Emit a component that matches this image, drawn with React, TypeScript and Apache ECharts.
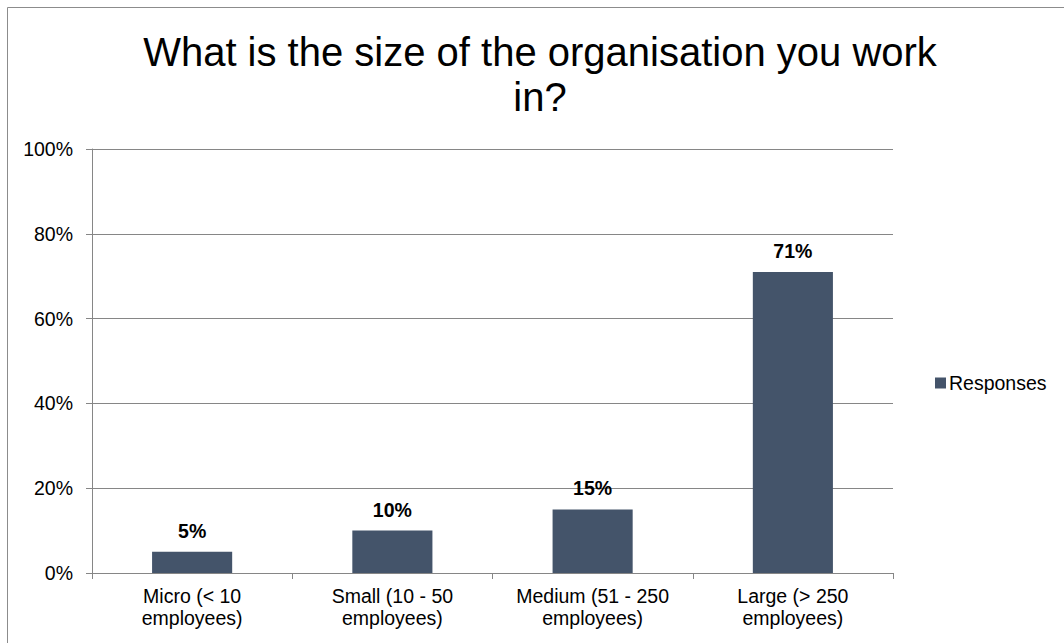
import React, { useEffect, useRef } from "react";
import * as echarts from "echarts";

const categories = [
  "Micro (< 10\nemployees)",
  "Small (10 - 50\nemployees)",
  "Medium (51 - 250\nemployees)",
  "Large (> 250\nemployees)",
];
const responses = [5, 10, 15, 71];
const seriesName = "Responses";
const titleText = "What is the size of the organisation you work\nin?";

export default function App() {
  const ref = useRef<HTMLDivElement>(null);
  useEffect(() => {
    if (!ref.current) return;
    const chart = echarts.init(ref.current, undefined, { renderer: "svg" });
    const font = "Liberation Sans, Arial, sans-serif";
    const fs = 19.5;
    chart.setOption({
      animation: false,
      backgroundColor: "#ffffff",
      textStyle: { fontFamily: font },
      graphic: [
        {
          type: "rect",
          shape: { x: 7.5, y: 7.5, width: 1070, height: 650 },
          style: { fill: "none", stroke: "#8c8c8c", lineWidth: 1 },
          silent: true,
        },
        {
          type: "text",
          x: 540,
          y: 29,
          style: {
            text: titleText,
            fill: "#000000",
            font: `40px ${font}`,
            textAlign: "center",
            lineHeight: 45,
          },
        },
      ],
      legend: {
        data: [seriesName],
        left: 930,
        top: 368,
        itemWidth: 11,
        itemHeight: 11,
        itemGap: 4,
        icon: "rect",
        textStyle: { fontSize: fs, color: "#000", fontFamily: font, padding: [0, 0, 0, -2] },
      },
      grid: { left: 92, right: 171, top: 149, bottom: 70 },
      xAxis: {
        type: "category",
        data: categories,
        axisLine: { lineStyle: { color: "#868686", width: 1 } },
        axisTick: { show: true, length: 6, alignWithLabel: false, lineStyle: { color: "#868686" } },
        axisLabel: {
          color: "#000",
          fontSize: fs,
          fontFamily: font,
          lineHeight: 22,
          margin: 12,
          interval: 0,
        },
      },
      yAxis: {
        type: "value",
        min: 0,
        max: 100,
        interval: 20,
        axisLine: { show: true, lineStyle: { color: "#868686", width: 1 } },
        axisTick: { show: true, length: 6, lineStyle: { color: "#868686" } },
        axisLabel: {
          formatter: "{value}%",
          color: "#000",
          fontSize: fs,
          fontFamily: font,
          margin: 19,
        },
        splitLine: { show: true, lineStyle: { color: "#868686", width: 1 } },
      },
      series: [
        {
          name: seriesName,
          type: "bar",
          data: responses,
          barWidth: "40%",
          itemStyle: { color: "#44546A" },
          label: {
            show: true,
            position: "top",
            distance: 11,
            formatter: "{c}%",
            fontWeight: "bold",
            fontSize: fs,
            color: "#000",
            fontFamily: font,
          },
        },
      ],
    });
    return () => chart.dispose();
  }, []);
  return (
    <div
      ref={ref}
      style={{ position: "fixed", left: 0, top: 0, width: 1064, height: 643 }}
    />
  );
}
